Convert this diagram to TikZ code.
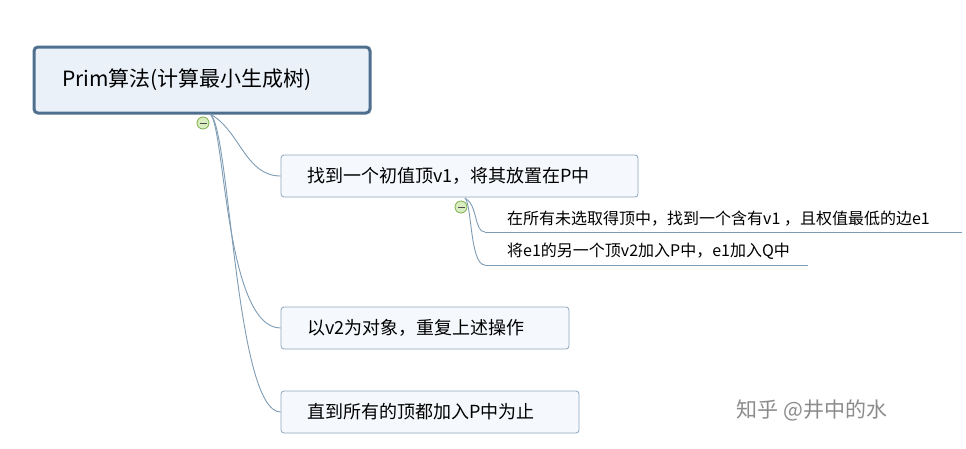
\documentclass[tikz,border=0pt]{standalone}
\usepackage{fontspec}
\setmainfont{Noto Sans CJK SC}
\usetikzlibrary{calc}
\begin{document}
\begin{tikzpicture}[x=1pt,y=-1pt,
  rootbox/.style={draw=rootline,line width=3pt,rounded corners=4pt,fill=rootfill,minimum width=336pt,minimum height=66pt,inner sep=0pt},
  childbox/.style={draw=boxline,line width=0.8pt,rounded corners=3pt,fill=childfill,minimum height=42pt,inner sep=0pt},
  roottext/.style={anchor=west,inner sep=0pt,font=\fontsize{21}{24}\selectfont},
  childtext/.style={anchor=west,inner sep=0pt,font=\fontsize{18}{21}\selectfont},
  subtext/.style={anchor=west,inner sep=0pt,font=\fontsize{16}{19}\selectfont},
  conn/.style={draw=connline,line width=0.9pt},
  icon/.style={circle,draw=icongreen,fill=iconfill,minimum size=12pt,inner sep=0pt,line width=0.8pt}]
\definecolor{rootline}{HTML}{4F6F8E}
\definecolor{rootfill}{HTML}{EAF1F9}
\definecolor{boxline}{HTML}{8EA6BF}
\definecolor{childfill}{HTML}{F5F8FC}
\definecolor{connline}{HTML}{7F9CB5}
\definecolor{icongreen}{HTML}{7FAE4F}
\definecolor{iconfill}{HTML}{D8EEC0}
\useasboundingbox (0,0) rectangle (966,448);
\fill[white] (0,0) rectangle (966,448);
\node[rootbox] (root) at (202,80) {};
\node[roottext] (rt) at (62,80) {Prim算法(计算最小生成树)};
\node[childbox,minimum width=357pt] (c1) at (459.5,176) {};
\node[childtext] (ct1) at (307,176) {找到一个初值顶v1，将其放置在P中};
\node[childbox,minimum width=288pt] (c2) at (425,328) {};
\node[childtext] (ct2) at (307,328) {以v2为对象，重复上述操作};
\node[childbox,minimum width=298pt] (c3) at (430,412) {};
\node[childtext] (ct3) at (307,412) {直到所有的顶都加入P中为止};
\coordinate (s) at (210,114);
\draw[conn] (s) .. controls (240,130) and (245,176) .. (c1.west);
\draw[conn] (s) .. controls (225,125) and (225,328) .. (c2.west);
\draw[conn] (s) .. controls (230,125) and (235,412) .. (c3.west);
\node[icon] (i1) at (203,123) {};
\draw[white!30!black,line width=0.7pt] ($(i1)+(-3.5,0)$) -- ($(i1)+(3.5,0)$);
\node[subtext] (t1) at (507,219) {在所有未选取得顶中，找到一个含有v1 ，且权值最低的边e1};
\node[subtext] (t2) at (507,251) {将e1的另一个顶v2加入P中，e1加入Q中};
\coordinate (u1s) at (485,232);
\coordinate (u1e) at (962,232);
\coordinate (u2s) at (485,265);
\coordinate (u2e) at (808,265);
\draw[conn] (u1s) -- (u1e);
\draw[conn] (u2s) -- (u2e);
\coordinate (s2) at (465,198);
\draw[conn] (s2) .. controls (478,205) and (474,232) .. (u1s);
\draw[conn] (s2) .. controls (472,205) and (470,265) .. (u2s);
\node[icon] (i2) at (461,207) {};
\draw[white!30!black,line width=0.7pt] ($(i2)+(-3.5,0)$) -- ($(i2)+(3.5,0)$);
\node[anchor=west,text=black!45,font=\fontsize{21}{24}\selectfont] (wm) at (733,410) {知乎 @井中的水};
\end{tikzpicture}
\end{document}
